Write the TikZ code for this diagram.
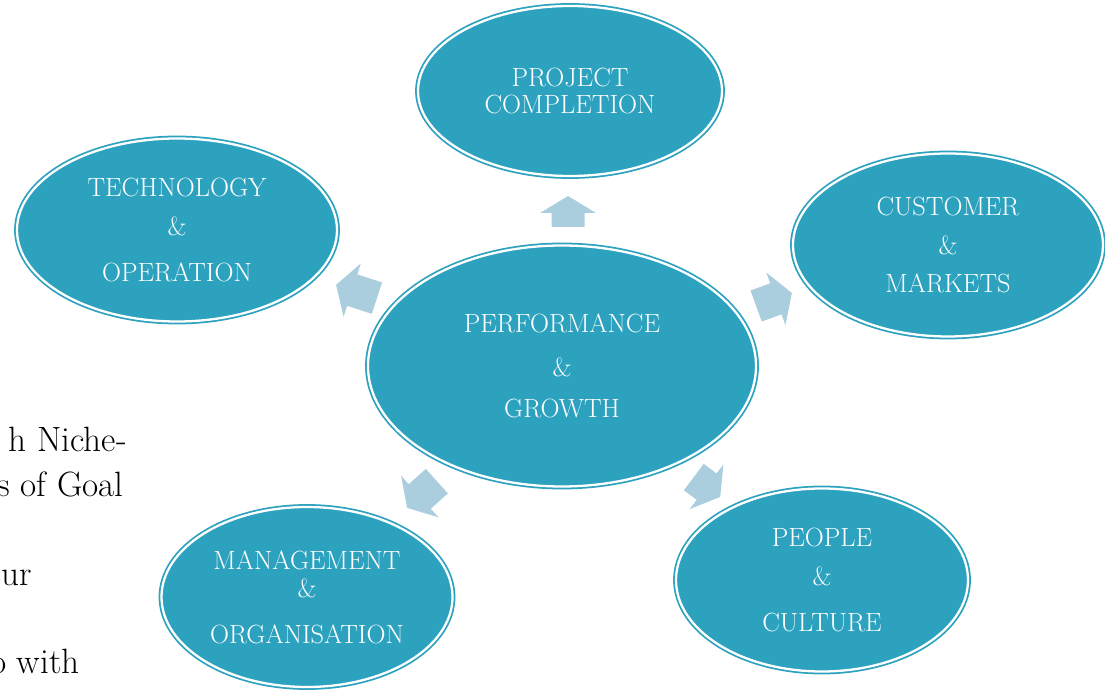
\documentclass[tikz,border=0pt]{standalone}
\usepackage{tikz}
\usetikzlibrary{shapes.geometric}
\definecolor{ovalteal}{RGB}{45,162,191}
\definecolor{arrowblue}{RGB}{171,206,222}
\tikzset{
  oval/.style={ellipse, fill=ovalteal, draw=ovalteal, double=white, double distance=1.3pt,
    line width=1pt, inner sep=0pt, text=white, align=center,
    font=\fontsize{15}{18}\selectfont},
  bodytext/.style={anchor=base east, inner sep=0pt, font=\fontsize{20}{24}\selectfont}
}
\begin{document}
\begin{tikzpicture}[x=0.2mm, y=-0.2mm]
\useasboundingbox (0,0) rectangle (1105,691);
\clip (0,0) rectangle (1105,691);
% page text behind the diagram
\node[bodytext] (line1) at (127,452) {h Niche-};
\node[bodytext] (line2) at (124,496) {s of Goal};
\node[bodytext] (line3) at (32,585) {ur};
\node[bodytext] (line4) at (80,673) {o with};

% ovals
\node[oval, minimum width=77.6mm, minimum height=48.2mm] (perf) at (562,366) {PERFORMANCE\\[7pt] \&\\[5pt] GROWTH};
\node[oval, minimum width=60.8mm, minimum height=34mm] (proj) at (570,91) {PROJECT\\[-3pt] COMPLETION};
\node[oval, minimum width=64mm, minimum height=36.6mm] (tech) at (177,230) {TECHNOLOGY\\[4pt] \&\\[8pt] OPERATION};
\node[oval, minimum width=62mm, minimum height=36.6mm] (cust) at (948,245) {CUSTOMER\\[4pt] \&\\[4pt] MARKETS};
\node[oval, minimum width=58.2mm, minimum height=36mm] (mgmt) at (307,597) {MANAGEMENT\\[-2pt] \&\\[8pt] ORGANISATION};
\node[oval, minimum width=58.4mm, minimum height=36.6mm] (people) at (822,580) {PEOPLE\\[4pt] \&\\[8pt] CULTURE};

% block arrows: x/y/angle/length
\foreach \x/\y/\a/\l in {568/211.5/90/31, 356.5/291.5/162/43, 774/299.5/20/38, 422/494.5/222/40, 707/487/-37/33}
  \fill[arrowblue, shift={(\x,\y)}, rotate=\a]
    (-\l/2,-16.5) -- (\l/2-17,-16.5) -- (\l/2-17,-28) -- (\l/2,0)
    -- (\l/2-17,28) -- (\l/2-17,16.5) -- (-\l/2,16.5) -- cycle;
\end{tikzpicture}
\end{document}
